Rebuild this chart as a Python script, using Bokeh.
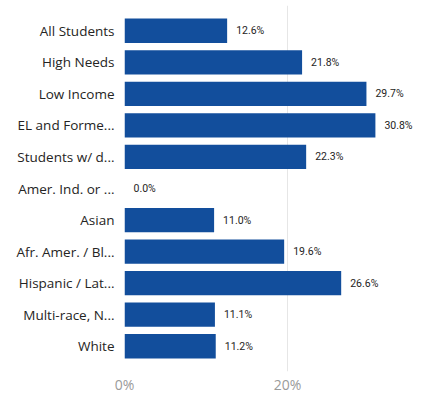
from bokeh.plotting import figure
from bokeh.models import Range1d, FixedTicker, ColumnDataSource, NumeralTickFormatter
from bokeh.core.properties import value
from bokeh.embed import file_html
from bokeh.resources import INLINE

categories = ["All Students", "High Needs", "Low Income", "EL and Forme...", "Students w/ d...",
              "Amer. Ind. or ...", "Asian", "Afr. Amer. / Bl...", "Hispanic / Lat...",
              "Multi-race, N...", "White"]
values = [12.6, 21.8, 29.7, 30.8, 22.3, 0.0, 11.0, 19.6, 26.6, 11.1, 11.2]
x_ticks = [0, 20]

n = len(categories)
ypos = [n - 1 - i for i in range(n)]
labels = [f"{v:.1f}%" for v in values]
src = ColumnDataSource(dict(y=ypos, v=values, lab=labels))

p = figure(width=417, height=396, output_backend="svg", toolbar_location=None,
           x_range=Range1d(0, 35.6), y_range=Range1d(-0.8, n - 0.5 + 0.3),
           min_border_left=124, min_border_right=3, min_border_top=5, min_border_bottom=20)
p.outline_line_color = None
p.background_fill_color = "white"

p.hbar(y="y", right="v", left=0, height=0.77, source=src, fill_color="#124E9C",
       line_color=None)
p.text(x="v", y="y", text="lab", source=src, x_offset=9, text_baseline="middle",
       text_font=value("Roboto"), text_font_size="10.5px", text_font_style="normal",
       text_color="#252423")

p.xaxis.ticker = FixedTicker(ticks=x_ticks)
p.xaxis.formatter = NumeralTickFormatter(format="0")
p.xaxis.major_label_overrides = {t: f"{t}%" for t in x_ticks}
p.xaxis.axis_line_color = None
p.xaxis.major_tick_line_color = None
p.xaxis.minor_tick_line_color = None
p.xaxis.major_tick_out = 0
p.xaxis.major_label_standoff = 3
p.xaxis.major_label_text_font = "Open Sans"
p.xaxis.major_label_text_font_size = "14px"
p.xaxis.major_label_text_color = "#9a9a9a"

p.yaxis.ticker = FixedTicker(ticks=ypos)
p.yaxis.major_label_overrides = {y: c for y, c in zip(ypos, categories)}
p.yaxis.axis_line_color = None
p.yaxis.major_tick_line_color = None
p.yaxis.minor_tick_line_color = None
p.yaxis.major_tick_out = 0
p.yaxis.major_label_standoff = 10
p.yaxis.major_label_text_font = "Open Sans"
p.yaxis.major_label_text_font_size = "13.5px"
p.yaxis.major_label_text_color = "#252423"

p.ygrid.grid_line_color = None
p.xgrid.grid_line_color = "#e6e6e6"
p.xgrid.grid_line_width = 1

open("out.html", "w").write(file_html(p, INLINE))
